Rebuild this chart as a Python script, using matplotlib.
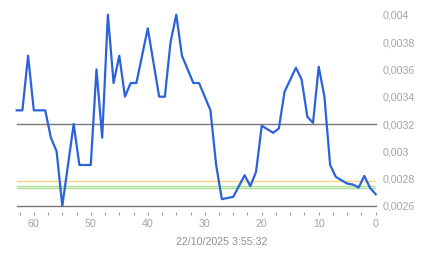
import numpy as np
import matplotlib
matplotlib.use("Agg")
import matplotlib.pyplot as plt
from matplotlib.ticker import MultipleLocator, FuncFormatter

# series vertices (minutes ago, value)
x_vals = [63, 62, 61, 60, 58, 57, 56, 55, 53, 52, 50, 49, 48, 47, 46, 45, 44, 43, 42,
          40, 38, 37, 36, 35, 34, 32, 31, 30, 29, 28, 27, 25, 23, 22, 21, 20, 18, 17,
          16, 14, 13, 12, 11, 10, 9, 8, 7, 5, 4, 3, 2, 1, 0]
y_vals = [0.0033, 0.0033, 0.0037, 0.0033, 0.0033, 0.0031, 0.0030, 0.0026, 0.0032, 0.0029,
          0.0029, 0.0036, 0.0031, 0.0040, 0.0035, 0.0037, 0.0034, 0.0035, 0.0035,
          0.0039, 0.0034, 0.0034, 0.0038, 0.0040, 0.0037, 0.0035, 0.0035, 0.0034,
          0.0033, 0.0029, 0.00265, 0.002667, 0.002825, 0.002745, 0.00285, 0.003187,
          0.003136, 0.003167, 0.003436, 0.003612, 0.003526, 0.003253, 0.003209,
          0.003619, 0.0034, 0.0029, 0.002813, 0.002764, 0.002757, 0.002735, 0.00282,
          0.002733, 0.002686]

ref_gray = [0.0032, 0.0026]
ref_yellow = 0.00278
ref_green = [0.002743, 0.002728]
x_label = "22/10/2025 3:55:32"

plt.rcParams['font.family'] = ['Liberation Sans', 'DejaVu Sans']
fig = plt.figure(figsize=(4.43, 2.58), dpi=100)
ax = fig.add_axes([0.0377, 0.2016, 0.8104, 0.7414])

for v in ref_gray:
    ax.axhline(v, color='#777777', lw=1.0, zorder=1, clip_on=False)
ax.axhline(ref_yellow, color='#f2d37a', lw=1.0, zorder=1)
for v in ref_green:
    ax.axhline(v, color='#addf93', lw=1.0, zorder=1)

ax.plot(x_vals, y_vals, color='#2a62dc', lw=1.6, zorder=3, clip_on=False)

ax.set_xlim(63, 0)
ax.set_ylim(0.0026, 0.004)
for s in ax.spines.values():
    s.set_visible(False)
ax.spines['bottom'].set_position(('outward', 4))

ax.xaxis.set_major_locator(MultipleLocator(10))
ax.xaxis.set_minor_locator(MultipleLocator(2.5))
ax.yaxis.set_major_locator(MultipleLocator(0.0002))
ax.yaxis.set_major_formatter(FuncFormatter(lambda v, p: ('%g' % round(v, 5)).replace('.', ',')))
ax.yaxis.tick_right()
ax.tick_params(axis='y', length=0, pad=5, labelsize=7.7, labelcolor='#a4a4a4')
ax.tick_params(axis='x', which='both', length=2, width=0.8, color='#999999',
               pad=3.5, labelsize=7.7, labelcolor='#a4a4a4')

fig.text(0.5, 0.063, x_label, ha='center', va='center', fontsize=7.7, color='#909090')

fig.savefig('out.png', dpi=100)
